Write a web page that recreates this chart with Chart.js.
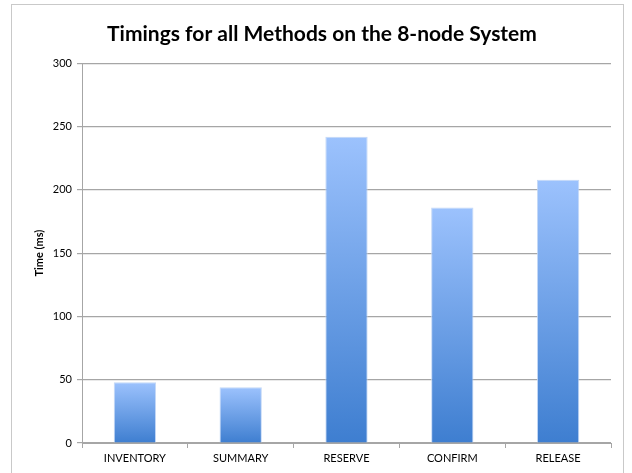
<!DOCTYPE html>
<html>
<head>
<meta charset="utf-8">
<script src="https://cdn.jsdelivr.net/npm/chart.js@4/dist/chart.umd.min.js"></script>
<style>
  html, body { margin: 0; padding: 0; background: #fff; }
  #wrap { position: relative; width: 632px; height: 473px; overflow: hidden; }
  #frame { position: absolute; left: 11px; top: 4px; width: 613px; height: 480px; border: 1px solid #c9c9c9; box-sizing: border-box; }
  canvas { position: absolute; left: 0; top: 0; }
</style>
</head>
<body>
<div id="wrap">
  <div id="frame"></div>
  <canvas id="c" width="632" height="473"></canvas>
</div>
<script>
// Method names and measured timings (ms)
const methods = ['INVENTORY', 'SUMMARY', 'RESERVE', 'CONFIRM', 'RELEASE'];
const timings = [48, 44, 242, 186, 208];
const yTicks = [0, 50, 100, 150, 200, 250, 300];

const FONT = 'Lato, "Open Sans", sans-serif';

// Vertical gradient per bar: light blue at the top, deeper blue at the base
function barGradient(ctx) {
  const chart = ctx.chart;
  const y = chart.scales.y;
  if (!y || ctx.dataIndex === undefined) return '#6a9ee8';
  const top = y.getPixelForValue(timings[ctx.dataIndex]);
  const bottom = y.getPixelForValue(0);
  if (!isFinite(top) || !isFinite(bottom) || top === bottom) return '#6a9ee8';
  const g = chart.ctx.createLinearGradient(0, top, 0, bottom);
  g.addColorStop(0, '#9cc2fd');
  g.addColorStop(1, '#3e7ed0');
  return g;
}

// Centre the title across the framed panel rather than the padded layout box
const titleSpan = {
  id: 'titleSpan',
  afterLayout(chart) {
    const t = chart.titleBlock;
    if (t) { t.left = 12; t.right = 632; t.width = 620; }
  }
};

new Chart(document.getElementById('c'), {
  type: 'bar',
  data: {
    labels: methods,
    datasets: [{
      data: timings,
      backgroundColor: barGradient,
      borderColor: 'rgba(190,212,245,0.9)',
      borderWidth: 1,
      barPercentage: 0.4,
      categoryPercentage: 1.0
    }]
  },
  plugins: [titleSpan],
  options: {
    responsive: false,
    animation: false,
    devicePixelRatio: 1,
    layout: { padding: { left: 0, right: 21, top: 0, bottom: 0 } },
    plugins: {
      legend: { display: false },
      tooltip: { enabled: false },
      title: {
        display: true,
        text: 'Timings for all Methods on the 8-node System',
        color: '#000',
        font: { family: FONT, size: 21, weight: 'bold' },
        padding: { top: 22, bottom: 16 }
      }
    },
    scales: {
      x: {
        afterFit: s => { s.height = 30; },
        grid: { display: true, drawOnChartArea: false, drawTicks: true, tickLength: 5, color: '#a6a6a6', offset: true },
        border: { display: true, color: '#a6a6a6', width: 1 },
        ticks: { color: '#000', font: { family: FONT, size: 11 }, padding: 4, maxRotation: 0 }
      },
      y: {
        min: 0,
        max: 300,
        afterFit: s => { s.width = 82; },
        afterBuildTicks: s => { s.ticks = yTicks.map(v => ({ value: v })); },
        grid: { color: '#a6a6a6', lineWidth: 1.2, drawTicks: true, tickLength: 5 },
        border: { display: true, color: '#a6a6a6', width: 1 },
        ticks: { color: '#000', font: { family: FONT, size: 11 }, padding: 5 },
        title: {
          display: true,
          text: 'Time (ms)',
          color: '#000',
          font: { family: FONT, size: 11, weight: 'bold' },
          padding: { top: 33, bottom: 0 }
        }
      }
    }
  }
});
</script>
</body>
</html>
